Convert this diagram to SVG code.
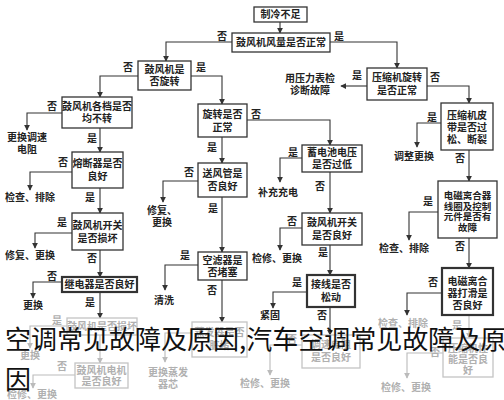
<svg xmlns="http://www.w3.org/2000/svg" width="504" height="400" viewBox="0 0 504 400">
<defs>
<marker id="ar" viewBox="0 0 8 8" refX="7" refY="4" markerWidth="6" markerHeight="6" orient="auto" markerUnits="userSpaceOnUse"><path d="M0,0 L8,4 L0,8 z" fill="#333"/></marker>
<marker id="arf" viewBox="0 0 8 8" refX="7" refY="4" markerWidth="6" markerHeight="6" orient="auto" markerUnits="userSpaceOnUse"><path d="M0,0 L8,4 L0,8 z" fill="#bbb"/></marker>
<style>
.box{fill:#fff;stroke:#333;stroke-width:1.3}
.thick{stroke-width:2.2}
.fb{fill:#fff;stroke:#c4c4c4;stroke-width:1.3}
.t{font-family:"Noto Sans CJK SC","Liberation Sans",sans-serif;font-size:10px;fill:#222;text-anchor:middle;font-weight:bold}
.s{font-size:9.5px}
.ft{fill:#b0b0b0}
.c{fill:none;stroke:#333;stroke-width:1.1;marker-end:url(#ar)}
.cf{fill:none;stroke:#bbb;stroke-width:1.1;marker-end:url(#arf)}
.ov{font-family:"Noto Sans CJK SC",sans-serif;font-size:26px;fill:#111}
</style>
</defs>
<rect width="504" height="400" fill="#fff"/>
<g id="connectors">
<path class="c" d="M280,22 V33"/>
<path class="c" d="M232,42 H166 V61"/>
<path class="c" d="M330,42 H397 V68"/>
<path class="c" d="M138,76 H100 V97"/>
<path class="c" d="M191,76 H222 V104"/>
<path class="c" d="M62,113 H27 V130"/>
<path class="c" d="M100,128 V152"/>
<path class="c" d="M72,172 H30 V190"/>
<path class="c" d="M100,188 V213"/>
<path class="c" d="M72,233 H35 V248"/>
<path class="c" d="M100,250 V277"/>
<path class="c" d="M62,282 H33 V298"/>
<path class="c" d="M100,292 V318"/>
<path class="cf" d="M67,326 H30 V348"/>
<path class="cf" d="M100,335 V363"/>
<path class="cf" d="M75,375 H33 V388"/>
<path class="c" d="M222,137 V163"/>
<path class="c" d="M247,120 H330 V145"/>
<path class="c" d="M198,181 H163 V202"/>
<path class="c" d="M222,197 V252"/>
<path class="c" d="M198,265 H165 V290"/>
<path class="c" d="M222,280 V322"/>
<path class="cf" d="M192,333 H165 V362"/>
<path class="c" d="M302,158 H280 V182"/>
<path class="c" d="M330,172 V213"/>
<path class="c" d="M302,228 H280 V250"/>
<path class="c" d="M330,245 V275"/>
<path class="c" d="M307,292 H273 V308"/>
<path class="c" d="M330,307 V335"/>
<path class="cf" d="M302,345 H270 V375"/>
<path class="c" d="M367,86 H341"/>
<path class="c" d="M427,86 H469 V103"/>
<path class="c" d="M441,123 H417 V147"/>
<path class="c" d="M469,150 V181"/>
<path class="c" d="M438,212 H409 V240"/>
<path class="c" d="M469,238 V268"/>
<path class="c" d="M442,293 H407 V315"/>
<path class="cf" d="M469,315 V338"/>
<path class="cf" d="M443,353 H407 V378"/>
<g class="t">
<text x="222" y="40">否</text><text x="339" y="40">是</text>
<text x="128" y="71">否</text><text x="201" y="71">是</text>
<text x="52" y="110">否</text><text x="92" y="142">是</text>
<text x="63" y="166">否</text><text x="90" y="201">是</text>
<text x="62" y="226">是</text><text x="92" y="262">否</text>
<text x="52" y="280">否</text><text x="90" y="306">是</text>
<text x="57" y="324" class="ft">是</text><text x="62" y="370" class="ft">否</text>
<text x="212" y="151">是</text><text x="256" y="118">否</text>
<text x="189" y="176">否</text><text x="213" y="212">是</text>
<text x="185" y="259">是</text><text x="212" y="294">否</text>
<text x="293" y="156">是</text><text x="320" y="190">否</text>
<text x="292" y="225">否</text><text x="323" y="256">是</text>
<text x="297" y="286">是</text><text x="322" y="319">否</text>
<text x="292" y="343" class="ft">否</text>
<text x="357" y="79">是</text><text x="435" y="81">否</text>
<text x="432" y="121">是</text><text x="460" y="162">否</text>
<text x="428" y="205">是</text><text x="460" y="250">否</text>
<text x="433" y="286">否</text><text x="457" y="329" class="ft">是</text>
<text x="435" y="356" class="ft">否</text>
</g>
</g>
<g id="n0"><rect class="box" x="254" y="7" width="53" height="15"/><text class="t" x="280.5" y="18">制冷不足</text></g>
<g id="n1"><rect class="box" x="232" y="33" width="98" height="19"/><text class="t" x="281" y="46">鼓风机风量是否正常</text></g>
<g id="n2"><rect class="box" x="138" y="61" width="53" height="29"/><text class="t" x="164.5" y="73">鼓风机是</text><text class="t" x="164.5" y="85">否旋转</text></g>
<g id="n3"><rect class="box" x="62" y="97" width="70" height="31"/><text class="t" x="97" y="110">鼓风机各档是否</text><text class="t" x="97" y="122">均不转</text></g>
<g id="r1"><text class="t" x="27" y="141">更换调速</text><text class="t" x="27" y="153">电阻</text></g>
<g id="n5"><rect class="box" x="72" y="152" width="51" height="36"/><text class="t" x="97.5" y="167">熔断器是否</text><text class="t" x="97.5" y="180">良好</text></g>
<g id="r2"><text class="t" x="30" y="201">检查、排除</text></g>
<g id="n6"><rect class="box" x="72" y="213" width="51" height="37"/><text class="t" x="97.5" y="229">鼓风机开关</text><text class="t" x="97.5" y="242">是否损坏</text></g>
<g id="r3"><text class="t" x="30" y="259">修复、更换</text></g>
<g id="n7"><rect class="box thick" x="62" y="277" width="75" height="15"/><text class="t" x="99.5" y="288">继电器是否良好</text></g>
<g id="r4"><text class="t" x="33" y="309">更换</text></g>
<g id="n8"><rect class="fb" x="67" y="318" width="70" height="17"/><text class="t ft" x="102" y="330">鼓风机是否损坏</text></g>
<g id="r5"><text class="t ft" x="30" y="359">更换</text></g>
<g id="n9"><rect class="fb" x="75" y="363" width="53" height="25"/><text class="t ft" x="101.5" y="374">鼓风机电机</text><text class="t ft" x="101.5" y="385">是否良好</text></g>
<g id="r6"><text class="t ft" x="32" y="398">检修、更换</text></g>
<g id="n10"><rect class="box" x="198" y="104" width="49" height="33"/><text class="t" x="222.5" y="118">旋转是否</text><text class="t" x="222.5" y="131">正常</text></g>
<g id="n11"><rect class="box" x="198" y="163" width="49" height="34"/><text class="t" x="222.5" y="177">送风管是</text><text class="t" x="222.5" y="190">否良好</text></g>
<g id="r7"><text class="t" x="162" y="214">修复、</text><text class="t" x="162" y="226">更换</text></g>
<g id="n12"><rect class="box" x="198" y="252" width="49" height="28"/><text class="t" x="222.5" y="264">空滤器是</text><text class="t" x="222.5" y="276">否堵塞</text></g>
<g id="r8"><text class="t" x="164" y="304">清洗</text></g>
<g id="n13"><rect class="fb" x="192" y="322" width="55" height="35"/><text class="t ft" x="219.5" y="336">蒸发器是否</text><text class="t ft" x="219.5" y="349">脏堵</text></g>
<g id="r9"><text class="t ft" x="168" y="376">更换蒸发</text><text class="t ft" x="168" y="388">器芯</text></g>
<g id="n14"><rect class="box" x="302" y="145" width="60" height="27"/><text class="t" x="332" y="156">蓄电池电压</text><text class="t" x="332" y="168">是否过低</text></g>
<g id="r10"><text class="t" x="278" y="196">补充充电</text></g>
<g id="n15"><rect class="box" x="302" y="213" width="60" height="32"/><text class="t" x="332" y="226">鼓风机开关</text><text class="t" x="332" y="239">是否良好</text></g>
<g id="r11"><text class="t" x="277" y="262">检修、更换</text></g>
<g id="n16"><rect class="box thick" x="307" y="275" width="48" height="32"/><text class="t" x="331" y="288">接线是否</text><text class="t" x="331" y="301">松动</text></g>
<g id="r12"><text class="t" x="270" y="319">紧固</text></g>
<g id="n17"><rect class="fb" x="302" y="335" width="58" height="33"/><text class="t ft" x="331" y="348">调速电阻</text><text class="t ft" x="331" y="361">是否良好</text></g>
<g id="r13"><text class="t ft" x="265" y="387">检修、更换</text></g>
<g id="n18"><rect class="box" x="367" y="68" width="60" height="32"/><text class="t" x="397" y="81">压缩机旋转</text><text class="t" x="397" y="94">是否正常</text></g>
<g id="r14"><text class="t" x="310" y="82">用压力表检</text><text class="t" x="310" y="94">诊断故障</text></g>
<g id="n19"><rect class="box" x="441" y="103" width="52" height="47"/><text class="t" x="467" y="119">压缩机皮</text><text class="t" x="467" y="131">带是否过</text><text class="t" x="467" y="143">松、断裂</text></g>
<g id="r15"><text class="t" x="414" y="160">调整更换</text></g>
<g id="n20"><rect class="box" x="438" y="181" width="59" height="57"/><text class="t s" x="467.5" y="199">电磁离合器</text><text class="t s" x="467.5" y="209.5">线圈及控制</text><text class="t s" x="467.5" y="220">元件是否有</text><text class="t s" x="467.5" y="230.5">故障</text></g>
<g id="r16"><text class="t" x="404" y="252">检查、排除</text></g>
<g id="n21"><rect class="box thick" x="442" y="268" width="51" height="47"/><text class="t" x="467.5" y="285">电磁离合</text><text class="t" x="467.5" y="297">器打滑是</text><text class="t" x="467.5" y="309">否良好</text></g>
<g id="r17"><text class="t ft" x="403" y="327">检查、排除</text></g>
<g id="n22"><rect class="fb" x="443" y="338" width="50" height="39"/><text class="t ft" x="468" y="352">压缩机性</text><text class="t ft" x="468" y="363">能是否良</text><text class="t ft" x="468" y="374">好</text></g>
<g id="r18"><text class="t ft" x="406" y="391">检修、更换</text></g>
<g id="overlay"><text class="ov" x="5" y="349">空调常见故障及原因,汽车空调常见故障及原</text><text class="ov" x="5" y="389">因</text></g>
</svg>
